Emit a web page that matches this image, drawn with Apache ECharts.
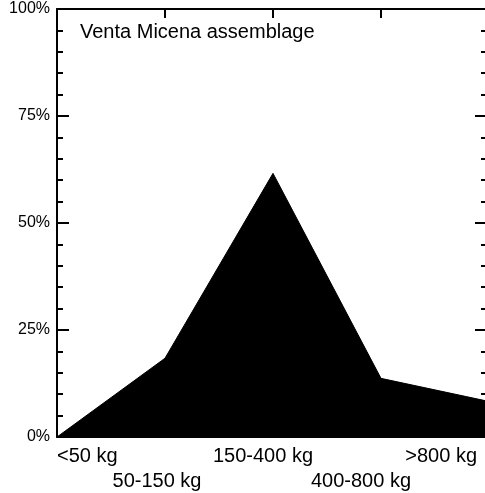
<!DOCTYPE html>
<html>
<head>
<meta charset="utf-8">
<script src="https://cdn.jsdelivr.net/npm/echarts@6/dist/echarts.min.js"></script>
<style>
  html, body { margin: 0; padding: 0; background: #fff; }
  #chart { width: 485px; height: 493px; }
</style>
</head>
<body>
<div id="chart"></div>
<script>
// Body-size classes of the prey and their share of the assemblage (%)
const sizeClasses = ['<50 kg', '50-150 kg', '150-400 kg', '400-800 kg', '>800 kg'];
const sharePct = [0, 18.4, 61.6, 13.7, 8.3];
const yTicks = [0, 25, 50, 75, 100];

const FONT = '"Liberation Sans", Arial, Helvetica, sans-serif';

// Staggered x labels: alternate rows, nudged next to their ticks
const labelStyles = [
  { align: 'left' },
  { padding: [25, 16, 0, 0] },
  { padding: [0, 20, 0, 0] },
  { padding: [25, 40, 0, 0] },
  { align: 'right', padding: [0, 12, 0, 0] }
];

const chart = echarts.init(document.getElementById('chart'), null, { renderer: 'canvas' });

const yBase = {
  type: 'value',
  min: yTicks[0],
  max: yTicks[yTicks.length - 1],
  interval: 25,
  splitLine: { show: false },
  axisLine: { show: true, lineStyle: { color: '#000', width: 2 } },
  axisTick: { show: true, inside: true, length: 12, lineStyle: { color: '#000', width: 2 } },
  minorTick: { show: true, splitNumber: 5, length: 6, lineStyle: { color: '#000', width: 2 } },
  minorSplitLine: { show: false }
};

chart.setOption({
  animation: false,
  backgroundColor: '#fff',
  title: {
    text: 'Venta Micena assemblage',
    left: 80,
    top: 22,
    padding: 0,
    textStyle: { fontFamily: FONT, fontSize: 20, fontWeight: 'normal', color: '#000' }
  },
  // the right-hand frame sits just past the window edge
  grid: { left: 57, right: -4, top: 9, bottom: 56, outerBoundsMode: 'none', containLabel: false },
  xAxis: [
    {
      type: 'category',
      position: 'bottom',
      boundaryGap: false,
      data: sizeClasses.map((c, i) => ({ value: c, textStyle: labelStyles[i] })),
      axisLine: { show: true, onZero: false, lineStyle: { color: '#000', width: 2 } },
      axisTick: { show: false },
      axisLabel: {
        interval: 0,
        margin: 9,
        color: '#000',
        fontFamily: FONT,
        fontSize: 20
      },
      splitLine: { show: false }
    },
    {
      type: 'category',
      position: 'top',
      boundaryGap: false,
      data: sizeClasses,
      axisLine: { show: true, onZero: false, lineStyle: { color: '#000', width: 2 } },
      axisTick: { show: true, inside: true, length: 9, lineStyle: { color: '#000', width: 2 } },
      axisLabel: { show: false },
      splitLine: { show: false }
    }
  ],
  yAxis: [
    Object.assign({}, yBase, {
      position: 'left',
      axisLabel: {
        formatter: '{value}%',
        margin: 7,
        color: '#000',
        fontFamily: FONT,
        fontSize: 16
      }
    }),
    Object.assign({}, yBase, {
      position: 'right',
      axisTick: { show: true, inside: true, length: 14, lineStyle: { color: '#000', width: 2 } },
      minorTick: { show: true, splitNumber: 5, length: 8, lineStyle: { color: '#000', width: 2 } },
      axisLabel: { show: false }
    })
  ],
  series: [
    {
      type: 'line',
      xAxisIndex: 0,
      yAxisIndex: 0,
      data: sharePct,
      showSymbol: false,
      symbol: 'none',
      lineStyle: { color: '#000', width: 1 },
      areaStyle: { color: '#000', opacity: 1 },
      z: 1
    }
  ]
});
</script>
</body>
</html>
